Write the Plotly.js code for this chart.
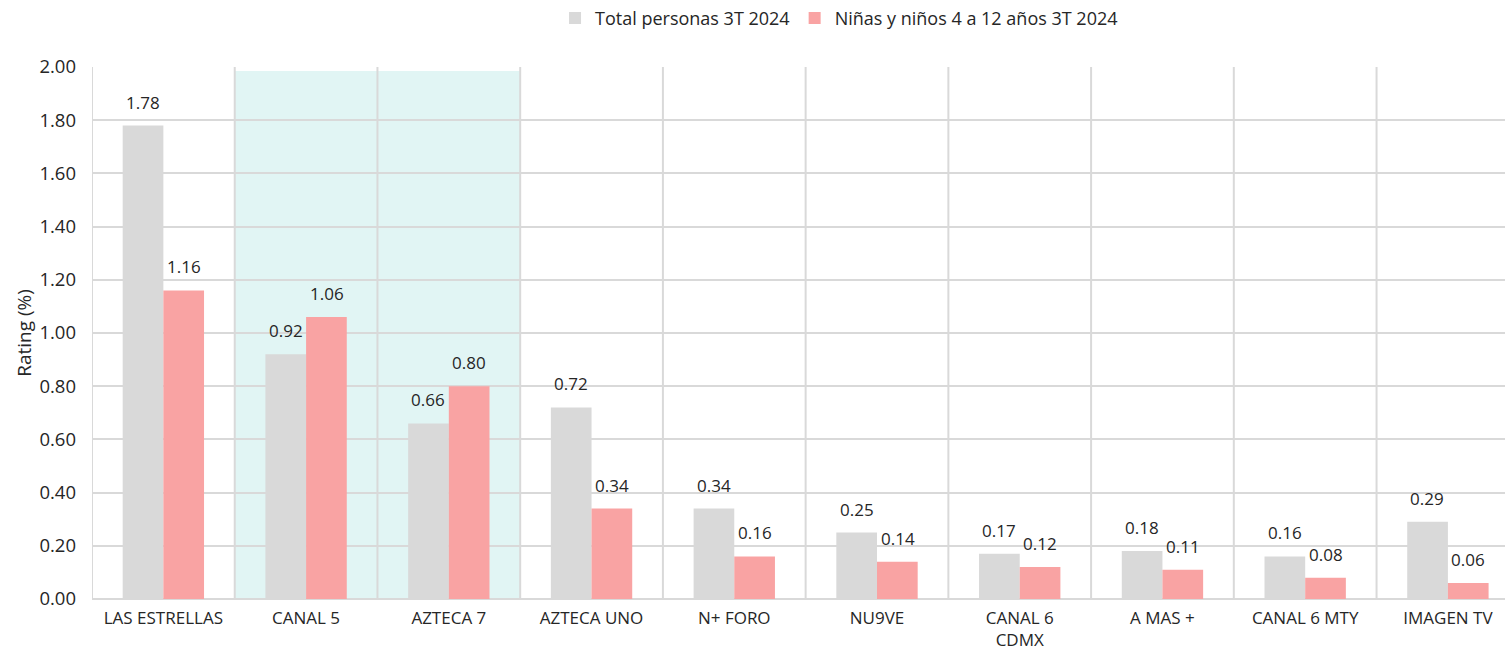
<!DOCTYPE html>
<html>
<head>
<meta charset="utf-8">
<script src="https://cdn.plot.ly/plotly-3.0.1.min.js"></script>
<style>html,body{margin:0;padding:0;background:#fff;overflow:hidden}</style>
</head>
<body>
<div id="chart" style="width:1505px;height:654px"></div>
<script>
const categories = ["LAS ESTRELLAS","CANAL 5","AZTECA 7","AZTECA UNO","N+ FORO","NU9VE","CANAL 6<br>CDMX","A MAS +","CANAL 6 MTY","IMAGEN TV"];
const totalPersonas = [1.78,0.92,0.66,0.72,0.34,0.25,0.17,0.18,0.16,0.29];
const ninos = [1.16,1.06,0.80,0.34,0.16,0.14,0.12,0.11,0.08,0.06];
const seriesNames = ["Total personas 3T 2024","Niñas y niños 4 a 12 años 3T 2024"];
const yTicks = [0,0.2,0.4,0.6,0.8,1.0,1.2,1.4,1.6,1.8,2.0];
const highlighted = ["CANAL 5","AZTECA 7"];

const FONT = "'Open Sans', 'DejaVu Sans', sans-serif";
const idx = categories.map((c,i)=>i);

const traces = [
  {type:'bar', name:seriesNames[0], x:idx, y:totalPersonas, marker:{color:'#d9d9d9'}, hoverinfo:'y'},
  {type:'bar', name:seriesNames[1], x:idx, y:ninos, marker:{color:'#f9a3a3'}, hoverinfo:'y'}
];

const shapes = [];
for (let i = 0; i <= categories.length; i++) {
  shapes.push({type:'line', xref:'x', yref:'y', x0:i-0.5, x1:i-0.5, y0:0, y1:2, line:{color:'#d9d9d9', width:2}, layer:'below'});
}
const hIdx = highlighted.map(h => categories.indexOf(h));
shapes.unshift({type:'rect', xref:'x', yref:'y', x0:Math.min(...hIdx)-0.5, x1:Math.max(...hIdx)+0.5, y0:0, y1:1.985, fillcolor:'#e1f5f4', line:{width:0}, layer:'below'});

const annotations = [];
const offs = [-20.5, 20.5];
[totalPersonas, ninos].forEach((arr, s) => {
  arr.forEach((v, i) => {
    annotations.push({x:i, y:v, xref:'x', yref:'y', text:v.toFixed(2), showarrow:false,
      xshift:offs[s], yshift:10, yanchor:'bottom', font:{family:FONT, size:17, color:'#262626'}});
  });
});

const layout = {
  width:1505, height:654,
  margin:{l:92, r:0, t:67, b:55},
  paper_bgcolor:'#fff', plot_bgcolor:'rgba(0,0,0,0)',
  font:{family:FONT, size:16, color:'#262626'},
  barmode:'group', bargap:0.43, bargroupgap:0,
  showlegend:true,
  legend:{orientation:'h', x:0.5575, xref:'container', xanchor:'center', y:0.972, yref:'container', yanchor:'middle', font:{size:18, family:FONT, color:'#262626'}, itemwidth:30, traceorder:'normal'},
  xaxis:{range:[-0.5, 9.4], tickvals:idx, ticktext:categories, showgrid:false, zeroline:false, showline:false, ticks:'', tickfont:{size:17}, ticklabelstandoff:7, fixedrange:true, automargin:false},
  yaxis:{range:[0,2], tickvals:yTicks, ticktext:yTicks.map(v=>v.toFixed(2)), showgrid:true, gridcolor:'#d9d9d9', gridwidth:2, zeroline:true, zerolinecolor:'#d9d9d9', zerolinewidth:2, showline:false, ticks:'', ticklabelstandoff:15, tickfont:{size:18.5},
    title:{text:'Rating (%)', font:{size:19}, standoff:2}, automargin:false},
  shapes, annotations
};

Plotly.newPlot('chart', traces, layout, {displayModeBar:false, staticPlot:true});
</script>
</body>
</html>
